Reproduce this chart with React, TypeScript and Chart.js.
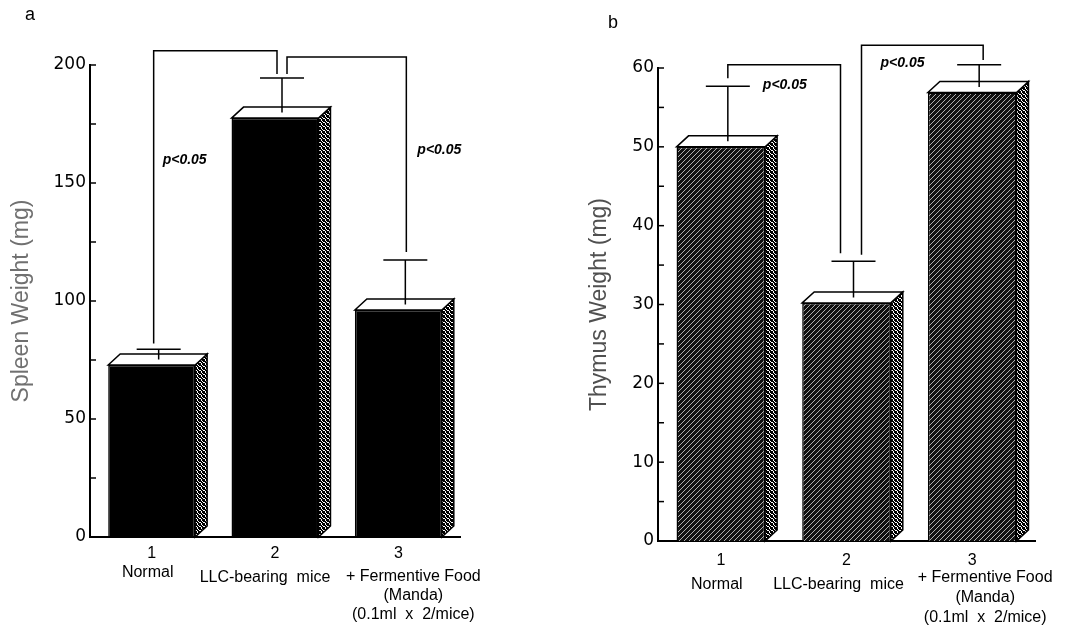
import React, { useEffect, useRef } from 'react';
import { Chart, registerables } from 'chart.js';
Chart.register(...registerables);

// ---------- data ----------
const categories = ['1', '2', '3'];
const groupLines = [
  ['Normal'],
  ['LLC-bearing  mice'],
  ['+ Fermentive Food', '(Manda)', '(0.1ml  x  2/mice)'],
];
const pLabels = ['p<0.05', 'p<0.05'];

const spleenMean = [72.9, 177.5, 96.2];
const spleenErrTop = [79.6, 194.5, 117.4];
const spleenTickLabels = [0, 50, 100, 150, 200];
// [fromBar, toBar, startValue, topValue, endValue]
const spleenBrackets = [
  [0, 1, 82, 206, 196.2],
  [1, 2, 196.2, 203.4, 120.8],
];
const spleenPValues = [159.7, 164];

const thymusMean = [50.0, 30.2, 56.9];
const thymusErrTop = [57.7, 35.5, 60.4];
const thymusTickLabels = [0, 10, 20, 30, 40, 50, 60];
const thymusBrackets = [
  [0, 1, 58.7, 60.4, 36.5],
  [1, 2, 36.3, 62.9, 61.0],
];
const thymusPValues = [57.8, 60.6];

// ---------- style / layout ----------
const DX = 12;
const DY = 11;
const STEM_DX = 7;
const CAP_HALF = 22;

const panelA = {
  letter: 'a', letterX: 25, letterY: 20,
  left: 0, width: 540,
  area: { left: 90, right: 460, top: 65, bottom: 537 },
  yTitle: 'Spleen Weight (mg)', titleColor: '#707070', titlePad: 8,
  yMax: 200, minorStep: 25, tickLabels: spleenTickLabels,
  means: spleenMean, errTop: spleenErrTop, brackets: spleenBrackets, pValues: spleenPValues,
  bracketStyle: [
    { fromDx: 2, toDx: 2, labelBar: 0, labelDx: 11 },
    { fromDx: 12, toDx: 8, labelBar: 2, labelDx: 19 },
  ],
  hatched: false,
  xPad: 7,
  descDx: [-4, -10, 15], descY0: [36, 41, 40], descGap: 19,
};

const panelB = {
  letter: 'b', letterX: 68, letterY: 28,
  left: 540, width: 533,
  area: { left: 118, right: 495, top: 68, bottom: 541 },
  yTitle: 'Thymus Weight (mg)', titleColor: '#505050', titlePad: 46,
  yMax: 60, minorStep: 5, tickLabels: thymusTickLabels,
  means: thymusMean, errTop: thymusErrTop, brackets: thymusBrackets, pValues: thymusPValues,
  bracketStyle: [
    { fromDx: 7, toDx: -6, labelBar: 0, labelDx: 42 },
    { fromDx: 15, toDx: 11, labelBar: 1, labelDx: 34 },
  ],
  hatched: true,
  xPad: 10,
  descDx: [-4, -8, 13], descY0: [44, 44, 37], descGap: 20,
};

const SIDE_DOTS = [
  '1011',
  '1101',
  '0110',
  '1011',
];

function makeSidePattern(ctx: CanvasRenderingContext2D) {
  const n = SIDE_DOTS.length;
  const c = document.createElement('canvas');
  c.width = n; c.height = n;
  const g = c.getContext('2d')!;
  g.fillStyle = '#fff'; g.fillRect(0, 0, n, n);
  g.fillStyle = '#000';
  SIDE_DOTS.forEach((row, r) => {
    for (let k = 0; k < row.length; k++) if (row[k] === '1') g.fillRect(k, r, 1, 1);
  });
  return ctx.createPattern(c, 'repeat')!;
}

function makeHatchPattern(ctx: CanvasRenderingContext2D) {
  const n = 5;
  const c = document.createElement('canvas');
  c.width = n; c.height = n;
  const g = c.getContext('2d')!;
  g.fillStyle = '#111'; g.fillRect(0, 0, n, n);
  g.fillStyle = '#b0b0b0';
  for (let i = 0; i < n; i++) g.fillRect(i, n - 1 - i, 1, 1);
  return ctx.createPattern(c, 'repeat')!;
}

function Panel({ cfg }: { cfg: any }) {
  const ref = useRef<HTMLCanvasElement>(null);
  useEffect(() => {
    const canvas = ref.current!;
    const ctx0 = canvas.getContext('2d')!;
    const side = makeSidePattern(ctx0);
    const front = cfg.hatched ? makeHatchPattern(ctx0) : '#000';

    const deco = {
      id: 'deco' + cfg.letter,
      afterDatasetsDraw(chart: any) {
        const ctx = chart.ctx as CanvasRenderingContext2D;
        const ys = chart.scales.y;
        const xs = chart.scales.x;
        const meta = chart.getDatasetMeta(0);
        ctx.save();
        ctx.strokeStyle = '#000';
        ctx.lineWidth = 1.5;
        ctx.lineJoin = 'miter';
        meta.data.forEach((bar: any, i: number) => {
          const { x, y, base, width } = bar.getProps(['x', 'y', 'base', 'width'], true);
          const L = x - width / 2;
          const R = x + width / 2;
          // side face
          ctx.beginPath();
          ctx.moveTo(R, y); ctx.lineTo(R + DX, y - DY); ctx.lineTo(R + DX, base - DY); ctx.lineTo(R, base);
          ctx.closePath();
          ctx.fillStyle = side; ctx.fill(); ctx.stroke();
          // top face
          ctx.beginPath();
          ctx.moveTo(L, y); ctx.lineTo(L + DX, y - DY); ctx.lineTo(R + DX, y - DY); ctx.lineTo(R, y);
          ctx.closePath();
          ctx.fillStyle = '#fff'; ctx.fill(); ctx.stroke();
          // error bar
          const ex = x + STEM_DX;
          const ey = ys.getPixelForValue(cfg.errTop[i]);
          ctx.beginPath();
          ctx.moveTo(ex, y - DY / 2); ctx.lineTo(ex, ey);
          ctx.moveTo(ex - CAP_HALF, ey); ctx.lineTo(ex + CAP_HALF, ey);
          ctx.stroke();
        });
        // significance brackets
        cfg.brackets.forEach((b: number[], k: number) => {
          const st = cfg.bracketStyle[k];
          const x1 = xs.getPixelForValue(b[0]) + st.fromDx;
          const x2 = xs.getPixelForValue(b[1]) + st.toDx;
          ctx.beginPath();
          ctx.moveTo(x1, ys.getPixelForValue(b[2]));
          ctx.lineTo(x1, ys.getPixelForValue(b[3]));
          ctx.lineTo(x2, ys.getPixelForValue(b[3]));
          ctx.lineTo(x2, ys.getPixelForValue(b[4]));
          ctx.stroke();
          ctx.fillStyle = '#000';
          ctx.font = 'italic bold 14px "Liberation Sans"';
          ctx.textAlign = 'left';
          ctx.textBaseline = 'middle';
          ctx.fillText(pLabels[k], xs.getPixelForValue(st.labelBar) + st.labelDx, ys.getPixelForValue(cfg.pValues[k]));
        });
        ctx.restore();
      },
      afterDraw(chart: any) {
        const ctx = chart.ctx as CanvasRenderingContext2D;
        const ys = chart.scales.y;
        const xs = chart.scales.x;
        const area = chart.chartArea;
        ctx.save();
        // inward tick marks
        ctx.strokeStyle = '#000';
        ctx.lineWidth = 1.5;
        ys.ticks.forEach((t: any) => {
          const py = ys.getPixelForValue(t.value);
          ctx.beginPath();
          ctx.moveTo(area.left, py);
          ctx.lineTo(area.left + 6, py);
          ctx.stroke();
        });
        // group descriptions
        ctx.fillStyle = '#000';
        ctx.font = '16px "Liberation Sans"';
        ctx.textAlign = 'center';
        ctx.textBaseline = 'middle';
        groupLines.forEach((lines, i) => {
          const cx = xs.getPixelForValue(i) + cfg.descDx[i];
          lines.forEach((ln, j) => {
            ctx.fillText(ln, cx, area.bottom + cfg.descY0[i] + j * cfg.descGap);
          });
        });
        // panel letter
        ctx.font = '18px "Liberation Sans"';
        ctx.textAlign = 'left';
        ctx.textBaseline = 'alphabetic';
        ctx.fillText(cfg.letter, cfg.letterX, cfg.letterY);
        ctx.restore();
      },
    };

    const chart = new Chart(canvas, {
      type: 'bar',
      data: {
        labels: categories,
        datasets: [
          {
            data: cfg.means,
            backgroundColor: front as any,
            borderColor: '#000',
            borderWidth: 1.5,
            barPercentage: 0.705,
            categoryPercentage: 1.0,
          },
        ],
      },
      options: {
        responsive: false,
        animation: false,
        devicePixelRatio: 1,
        layout: {
          padding: {
            left: 0,
            right: cfg.width - cfg.area.right,
            top: cfg.area.top,
            bottom: 0,
          },
        },
        plugins: {
          legend: { display: false },
          tooltip: { enabled: false },
          title: { display: false },
        },
        scales: {
          x: {
            grid: { display: false, drawTicks: false },
            border: { display: true, color: '#000', width: 2 },
            ticks: {
              color: '#000',
              padding: cfg.xPad,
              font: { family: 'Liberation Sans', size: 16 },
            },
            afterFit: (s: any) => { s.height = 628 - cfg.area.bottom; },
          },
          y: {
            min: 0,
            max: cfg.yMax,
            grid: { display: false, drawTicks: false },
            border: { display: true, color: '#000', width: 2 },
            ticks: {
              stepSize: cfg.minorStep,
              autoSkip: false,
              color: '#000',
              padding: 4,
              font: { family: 'DejaVu Sans', size: 17 },
              callback: (v: any) => (cfg.tickLabels.includes(Number(v)) ? String(v) : ''),
            },
            title: {
              display: true,
              text: cfg.yTitle,
              color: cfg.titleColor,
              font: { family: 'Liberation Sans', size: 23 },
              padding: { top: cfg.titlePad, bottom: 0 },
            },
            afterFit: (s: any) => { s.width = cfg.area.left; },
          },
        },
      },
      plugins: [deco],
    });
    return () => chart.destroy();
  }, []);
  return (
    <canvas
      ref={ref}
      width={cfg.width}
      height={628}
      style={{ position: 'absolute', left: cfg.left, top: 0, width: cfg.width, height: 628 }}
    />
  );
}

export default function App() {
  return (
    <div style={{ position: 'absolute', left: 0, top: 0, width: 1073, height: 628, background: '#fff' }}>
      <Panel cfg={panelA} />
      <Panel cfg={panelB} />
    </div>
  );
}
